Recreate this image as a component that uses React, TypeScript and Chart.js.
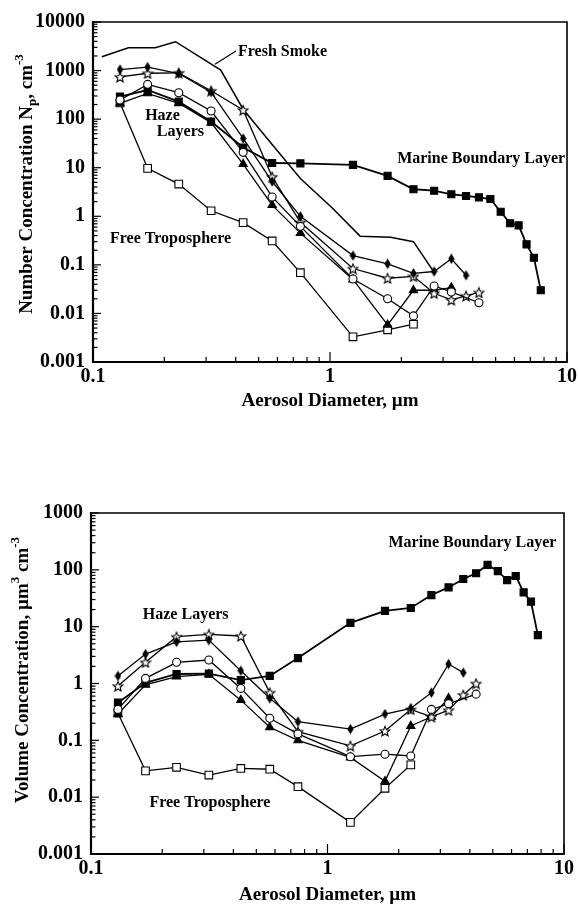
import React, { useEffect, useRef } from "react";
import { Chart, registerables } from "chart.js";

Chart.register(...registerables);

const FONT = "'Liberation Serif', 'Times New Roman', Times, serif";

// Optical size bins, µm
const DIAMETERS = [
  0.13, 0.17, 0.23, 0.315, 0.43, 0.57, 0.75, 1.25, 1.75, 2.25, 2.75,
  3.25, 3.75, 4.25, 4.75, 5.25, 5.75, 6.25, 6.75, 7.25, 7.75,
];

// Number concentration, cm^-3 (one value per bin, null = no measurement)
const N_MARINE = [
  290, 398, 229, 89, 26, 12.5, 12.3, 11.4, 6.8, 3.6, 3.36,
  2.84, 2.62, 2.46, 2.27, 1.24, 0.72, 0.65, 0.265, 0.14, 0.03,
];
const N_FREE_TROP = [215, 9.7, 4.6, 1.3, 0.74, 0.31, 0.069, 0.0033, 0.0046, 0.006];
const N_HAZE_DIAMOND = [1050, 1180, 870, 360, 40, 5.2, 1.0, 0.155, 0.105, 0.067, 0.073, 0.133, 0.061];
const N_HAZE_STAR = [740, 880, 900, 385, 154, 6.5, 0.75, 0.084, 0.053, 0.058, 0.026, 0.019, 0.023, 0.027];
const N_HAZE_CIRCLE = [248, 520, 350, 147, 20.7, 2.5, 0.62, 0.051, 0.02, 0.0089, 0.0367, 0.0277, null, 0.0166];
const N_HAZE_TRIANGLE = [212, 340, 212, 85, 11.9, 1.7, 0.45, 0.05, 0.0058, 0.03, 0.03, 0.034];
const FRESH_SMOKE_D = [0.109, 0.141, 0.183, 0.223, 0.346, 0.43, 0.57, 0.75, 1.02, 1.34, 1.8, 2.25, 2.75];
const FRESH_SMOKE_N = [1930, 2960, 2960, 3930, 1020, 160, 30, 6, 1.5, 0.39, 0.37, 0.3, 0.07];

// Volume concentration, µm^3 cm^-3
const V_MARINE = [
  0.46, 1.03, 1.47, 1.49, 1.15, 1.36, 2.8, 11.7, 18.9, 21.3, 36,
  49, 69, 87, 122, 95, 66, 78, 40, 27.5, 7.1,
];
const V_FREE_TROP = [0.3, 0.029, 0.0335, 0.0245, 0.032, 0.031, 0.0153, 0.0036, 0.0143, 0.037];
const V_HAZE_DIAMOND = [1.36, 3.3, 5.4, 5.8, 1.68, 0.55, 0.213, 0.158, 0.29, 0.366, 0.69, 2.2, 1.55];
const V_HAZE_STAR = [0.9, 2.36, 6.66, 7.3, 6.85, 0.69, 0.142, 0.08, 0.146, 0.35, 0.26, 0.34, 0.63, 1.0];
const V_HAZE_CIRCLE = [0.35, 1.23, 2.36, 2.59, 0.82, 0.244, 0.13, 0.0515, 0.057, 0.053, 0.35, 0.44, null, 0.65];
const V_HAZE_TRIANGLE = [0.29, 0.95, 1.32, 1.45, 0.51, 0.17, 0.1, 0.05, 0.019, 0.179, 0.26, 0.55];

// Axis decades and their labels
const X_DECADES = [0.1, 1, 10];
const X_TICK_LABELS = ["0.1", "1", "10"];
const N_DECADES = [0.001, 0.01, 0.1, 1, 10, 100, 1000, 10000];
const N_TICK_LABELS = ["0.001", "0.01", "0.1", "1", "10", "100", "1000", "10000"];
const V_DECADES = [0.001, 0.01, 0.1, 1, 10, 100, 1000];
const V_TICK_LABELS = ["0.001", "0.01", "0.1", "1", "10", "100", "1000"];

type RichPart = { text: string; size: number; shift: number };
type Note = { text: string; x: number; y: number };
type Leader = { x1: number; y1: number; x2: number; y2: number };
type Panel = {
  top: number;
  padTop: number;
  padRight: number;
  yAxisWidth: number;
  xAxisHeight: number;
  yMin: number;
  yMax: number;
  yDecades: number[];
  yLabels: string[];
  yTitle: RichPart[];
  yTitleX: number;
  yTitleY: number;
  xTitleY: number;
  notes: Note[];
  leaders: Leader[];
  series: { ys: (number | null)[]; xs?: number[]; kind: string }[];
};

const pts = (xs: number[], ys: (number | null)[]) =>
  ys
    .map((y, i) => ({ x: xs[i], y }))
    .filter((p) => p.y !== null && p.y !== undefined) as { x: number; y: number }[];

function makeStar(size: number) {
  const c = document.createElement("canvas");
  c.width = size;
  c.height = size;
  const g = c.getContext("2d")!;
  const cx = size / 2;
  const cy = size / 2 + 0.6;
  const R = size / 2 - 0.8;
  const r = R * 0.45;
  g.beginPath();
  for (let i = 0; i < 10; i++) {
    const a = -Math.PI / 2 + (i * Math.PI) / 5;
    const rr = i % 2 === 0 ? R : r;
    g.lineTo(cx + rr * Math.cos(a), cy + rr * Math.sin(a));
  }
  g.closePath();
  g.fillStyle = "#fff";
  g.fill();
  g.strokeStyle = "#000";
  g.lineWidth = 1.1;
  g.stroke();
  return c;
}

function makeDiamond(w: number, h: number) {
  const c = document.createElement("canvas");
  c.width = w;
  c.height = h;
  const g = c.getContext("2d")!;
  g.beginPath();
  g.moveTo(w / 2, 0.3);
  g.lineTo(w - 0.3, h / 2);
  g.lineTo(w / 2, h - 0.3);
  g.lineTo(0.3, h / 2);
  g.closePath();
  g.fillStyle = "#000";
  g.fill();
  return c;
}

function datasetFor(kind: string, data: { x: number; y: number }[], star: HTMLCanvasElement, diamond: HTMLCanvasElement) {
  const base: any = {
    data,
    borderColor: "#000",
    borderWidth: 1.3,
    tension: 0,
    pointBorderColor: "#000",
    pointBorderWidth: 1.1,
    fill: false,
    clip: false,
  };
  switch (kind) {
    case "marine":
      return { ...base, borderWidth: 1.8, pointStyle: "rect", pointRadius: 5, pointBackgroundColor: "#000" };
    case "free":
      return { ...base, pointStyle: "rect", pointRadius: 5.4, pointBackgroundColor: "#fff" };
    case "circle":
      return { ...base, pointStyle: "circle", pointRadius: 4, pointBackgroundColor: "#fff" };
    case "triangle":
      return { ...base, pointStyle: "triangle", pointRadius: 4.8, pointBackgroundColor: "#000" };
    case "diamond":
      return { ...base, pointStyle: diamond, pointRadius: 5 };
    case "star":
      return { ...base, pointStyle: star, pointRadius: 5 };
    default:
      return { ...base, borderWidth: 1.5, pointRadius: 0 };
  }
}

function labelFor(decades: number[], labels: string[]) {
  return (v: any) => {
    const val = Number(v);
    const i = decades.findIndex((d) => Math.abs(Math.log10(d) - Math.log10(val)) < 1e-6);
    return i >= 0 ? labels[i] : "";
  };
}

function drawRich(ctx: CanvasRenderingContext2D, parts: RichPart[], cx: number, cy: number) {
  let total = 0;
  for (const p of parts) {
    ctx.font = `bold ${p.size}px ${FONT}`;
    total += ctx.measureText(p.text).width;
  }
  ctx.save();
  ctx.translate(cx, cy);
  ctx.rotate(-Math.PI / 2);
  ctx.textAlign = "left";
  ctx.textBaseline = "alphabetic";
  let x = -total / 2;
  for (const p of parts) {
    ctx.font = `bold ${p.size}px ${FONT}`;
    ctx.fillText(p.text, x, 6.5 + p.shift);
    x += ctx.measureText(p.text).width;
  }
  ctx.restore();
}

function decorPlugin(panel: Panel) {
  return {
    id: "panelDecor",
    afterDraw(chart: any) {
      const { ctx, chartArea: a, scales } = chart;
      const xs = scales.x;
      const ys = scales.y;
      ctx.save();
      ctx.strokeStyle = "#000";
      ctx.fillStyle = "#000";

      // inward tick marks on the left and bottom axes
      ctx.lineWidth = 1.2;
      const eachTick = (min: number, max: number, fn: (v: number, major: boolean) => void) => {
        for (let e = Math.round(Math.log10(min)); e <= Math.round(Math.log10(max)); e++) {
          for (let m = 1; m <= 9; m++) {
            const v = m * Math.pow(10, e);
            if (v < min * 0.999 || v > max * 1.001) continue;
            fn(v, m === 1);
          }
        }
      };
      eachTick(xs.min, xs.max, (v, major) => {
        const px = xs.getPixelForValue(v);
        ctx.beginPath();
        ctx.moveTo(px, a.bottom);
        ctx.lineTo(px, a.bottom - (major ? 10 : 5));
        ctx.stroke();
      });
      eachTick(ys.min, ys.max, (v, major) => {
        const py = ys.getPixelForValue(v);
        ctx.beginPath();
        ctx.moveTo(a.left, py);
        ctx.lineTo(a.left + (major ? 8 : 4.5), py);
        ctx.stroke();
      });

      // plot frame
      ctx.lineWidth = 1.6;
      ctx.beginPath();
      ctx.moveTo(a.left, a.top);
      ctx.lineTo(a.right, a.top);
      ctx.lineTo(a.right, a.bottom);
      ctx.stroke();
      ctx.lineWidth = 2.2;
      ctx.beginPath();
      ctx.moveTo(a.left, a.top - 1);
      ctx.lineTo(a.left, a.bottom);
      ctx.lineTo(a.right + 0.8, a.bottom);
      ctx.stroke();

      // axis titles
      ctx.textAlign = "center";
      ctx.textBaseline = "middle";
      ctx.font = `bold 19px ${FONT}`;
      ctx.fillText("Aerosol Diameter, \u00b5m", (a.left + a.right) / 2, panel.xTitleY);
      drawRich(ctx, panel.yTitle, panel.yTitleX, panel.yTitleY);

      // curve labels
      ctx.font = `bold 16px ${FONT}`;
      ctx.textAlign = "left";
      ctx.textBaseline = "middle";
      for (const n of panel.notes) {
        ctx.fillText(n.text, xs.getPixelForValue(n.x), ys.getPixelForValue(n.y));
      }
      ctx.lineWidth = 1.2;
      for (const l of panel.leaders) {
        ctx.beginPath();
        ctx.moveTo(xs.getPixelForValue(l.x1), ys.getPixelForValue(l.y1));
        ctx.lineTo(xs.getPixelForValue(l.x2), ys.getPixelForValue(l.y2));
        ctx.stroke();
      }
      ctx.restore();
    },
  };
}

const NUMBER_PANEL: Panel = {
  top: 0,
  padTop: 22,
  padRight: 11,
  yAxisWidth: 93,
  xAxisHeight: 90,
  yMin: 0.001,
  yMax: 10000,
  yDecades: N_DECADES,
  yLabels: N_TICK_LABELS,
  yTitle: [
    { text: "Number Concentration N", size: 19, shift: 0 },
    { text: "p", size: 13, shift: 4 },
    { text: ", cm", size: 19, shift: 0 },
    { text: "-3", size: 13, shift: -9 },
  ],
  yTitleX: 25,
  yTitleY: 184,
  xTitleY: 401,
  notes: [
    { text: "Fresh Smoke", x: 0.409, y: 2410 },
    { text: "Haze", x: 0.166, y: 117 },
    { text: "Layers", x: 0.186, y: 55 },
    { text: "Marine Boundary Layer", x: 1.92, y: 14.9 },
    { text: "Free Troposphere", x: 0.118, y: 0.336 },
  ],
  leaders: [{ x1: 0.327, y1: 1350, x2: 0.401, y2: 2530 }],
  series: [
    { kind: "circle", ys: N_HAZE_CIRCLE },
    { kind: "diamond", ys: N_HAZE_DIAMOND },
    { kind: "star", ys: N_HAZE_STAR },
    { kind: "triangle", ys: N_HAZE_TRIANGLE },
    { kind: "marine", ys: N_MARINE },
    { kind: "free", ys: N_FREE_TROP },
    { kind: "smoke", ys: FRESH_SMOKE_N, xs: FRESH_SMOKE_D },
  ],
};

const VOLUME_PANEL: Panel = {
  top: 452,
  padTop: 61,
  padRight: 14,
  yAxisWidth: 91,
  xAxisHeight: 50,
  yMin: 0.001,
  yMax: 1000,
  yDecades: V_DECADES,
  yLabels: V_TICK_LABELS,
  yTitle: [
    { text: "Volume Concentration, \u00b5m", size: 19, shift: 0 },
    { text: "3", size: 13, shift: -9 },
    { text: " cm", size: 19, shift: 0 },
    { text: "-3", size: 13, shift: -9 },
  ],
  yTitleX: 21,
  yTitleY: 218,
  xTitleY: 443,
  notes: [
    { text: "Marine Boundary Layer", x: 1.81, y: 293 },
    { text: "Haze Layers", x: 0.1656, y: 16 },
    { text: "Free Troposphere", x: 0.1766, y: 0.0078 },
  ],
  leaders: [],
  series: [
    { kind: "circle", ys: V_HAZE_CIRCLE },
    { kind: "diamond", ys: V_HAZE_DIAMOND },
    { kind: "star", ys: V_HAZE_STAR },
    { kind: "triangle", ys: V_HAZE_TRIANGLE },
    { kind: "marine", ys: V_MARINE },
    { kind: "free", ys: V_FREE_TROP },
  ],
};

function LogPanel({ panel }: { panel: Panel }) {
  const ref = useRef<HTMLCanvasElement>(null);
  useEffect(() => {
    const canvas = ref.current!;
    const star = makeStar(12);
    const diamond = makeDiamond(7, 11);
    const tickFont = { family: FONT, size: 20, weight: "bold" as const };
    const chart = new Chart(canvas, {
      type: "line",
      data: {
        datasets: panel.series.map((s) =>
          datasetFor(s.kind, pts(s.xs ?? DIAMETERS, s.ys), star, diamond)
        ),
      },
      options: {
        animation: false,
        responsive: false,
        devicePixelRatio: 1,
        layout: { padding: { left: 0, top: panel.padTop, right: panel.padRight, bottom: 0 } },
        plugins: { legend: { display: false }, tooltip: { enabled: false } },
        scales: {
          x: {
            type: "logarithmic",
            min: 0.1,
            max: 10,
            grid: { display: false, drawTicks: false },
            border: { display: false },
            ticks: {
              autoSkip: false,
              maxRotation: 0,
              padding: 3,
              color: "#000",
              font: tickFont,
              callback: labelFor(X_DECADES, X_TICK_LABELS),
            },
            afterFit: (s: any) => {
              s.height = panel.xAxisHeight;
              s.paddingLeft = 0;
              s.paddingRight = 0;
            },
          },
          y: {
            type: "logarithmic",
            min: panel.yMin,
            max: panel.yMax,
            grid: { display: false, drawTicks: false },
            border: { display: false },
            ticks: {
              autoSkip: false,
              padding: 8,
              color: "#000",
              font: tickFont,
              callback: labelFor(panel.yDecades, panel.yLabels),
            },
            afterFit: (s: any) => {
              s.width = panel.yAxisWidth;
              s.paddingTop = 0;
              s.paddingBottom = 0;
            },
          },
        },
      } as any,
      plugins: [decorPlugin(panel)],
    });
    return () => chart.destroy();
  }, [panel]);
  return (
    <canvas
      ref={ref}
      width={578}
      height={452}
      style={{ position: "absolute", left: 0, top: panel.top, width: 578, height: 452 }}
    />
  );
}

export default function App() {
  return (
    <div style={{ position: "absolute", left: 0, top: 0, width: 578, height: 904, background: "#fff" }}>
      <LogPanel panel={NUMBER_PANEL} />
      <LogPanel panel={VOLUME_PANEL} />
    </div>
  );
}
